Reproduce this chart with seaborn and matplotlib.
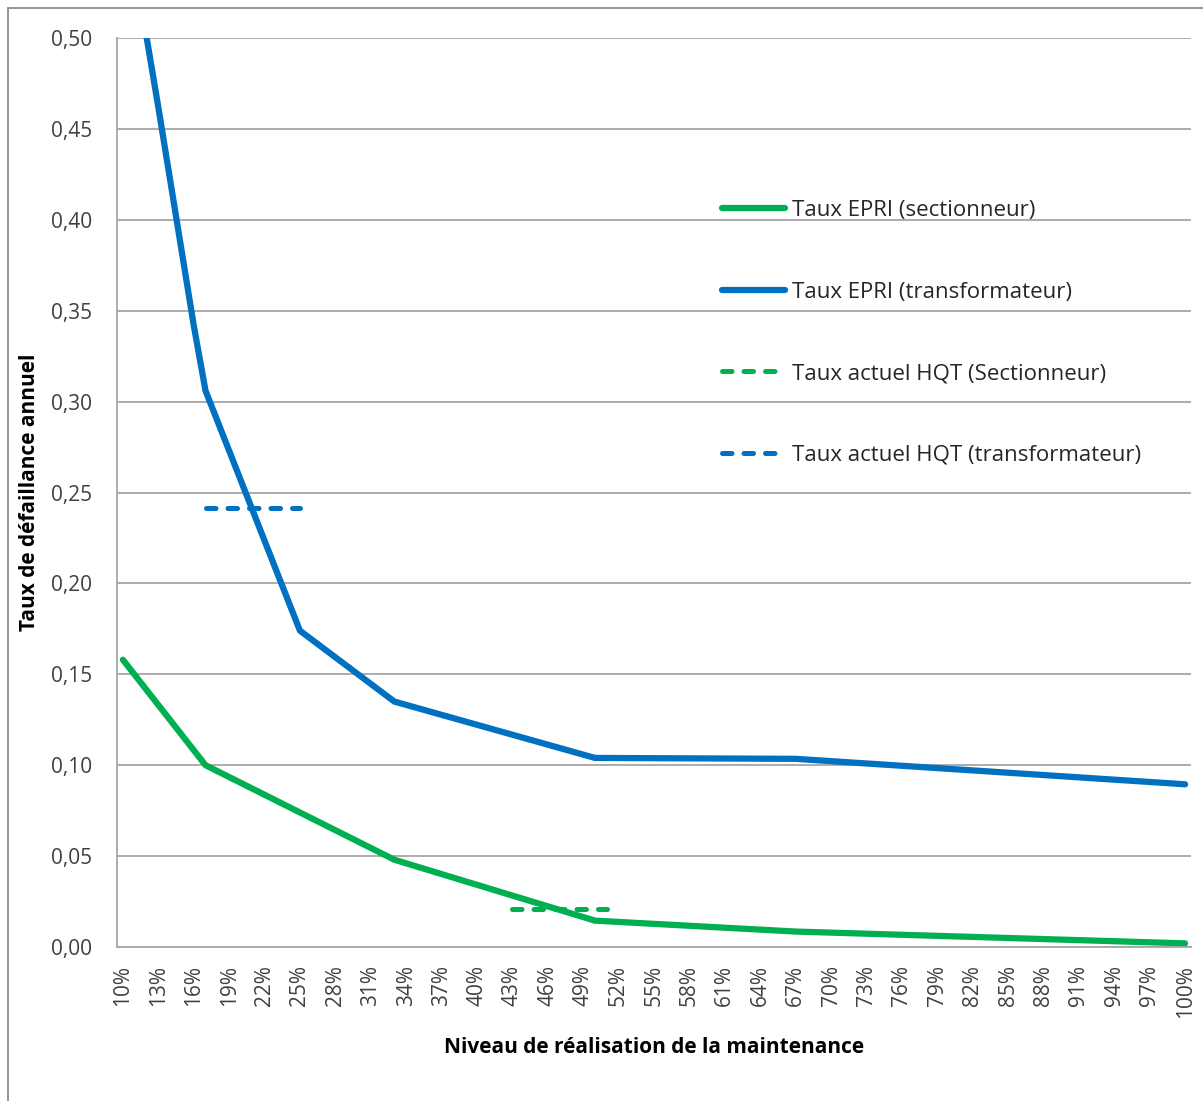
import matplotlib
matplotlib.use("Agg")
import matplotlib.pyplot as plt
import matplotlib.ticker as mticker
from matplotlib.lines import Line2D
import numpy as np
import pandas as pd
import seaborn as sns

# ---- data ----
categories = [f"{p}%" for p in range(10, 101)]          # category axis 10% .. 100%

sect_pct = [10, 17, 33, 50, 67, 100]
sect_val = [0.158, 0.100, 0.048, 0.0145, 0.0085, 0.002]

trans_pct = [10, 13, 16, 17, 25, 33, 50, 67, 100]
trans_val = [0.578, 0.462, 0.342, 0.306, 0.174, 0.135, 0.104, 0.1035, 0.0895]

hqt_sect_pct = [43, 51]
hqt_sect_val = [0.021, 0.021]

hqt_trans_pct = [17, 25]
hqt_trans_val = [0.2415, 0.2415]

labels = ["Taux EPRI (sectionneur)", "Taux EPRI (transformateur)",
          "Taux actuel HQT (Sectionneur)", "Taux actuel HQT (transformateur)"]

yticks = [0.00, 0.05, 0.10, 0.15, 0.20, 0.25, 0.30, 0.35, 0.40, 0.45, 0.50]

GREEN = "#00B050"
BLUE = "#0070C0"

sns.set_style("white")
plt.rcParams["font.family"] = ["Open Sans", "DejaVu Sans"]

fig = plt.figure(figsize=(12.03, 11.01), dpi=100)
ax = fig.add_axes([117 / 1203, 1 - 947 / 1101, (1191 - 117) / 1203, (947 - 38) / 1101])

def idx(pcts):
    return [categories.index(f"{p}%") for p in pcts]

df_s = pd.DataFrame({"x": idx(sect_pct), "y": sect_val})
df_t = pd.DataFrame({"x": idx(trans_pct), "y": trans_val})
df_hs = pd.DataFrame({"x": idx(hqt_sect_pct), "y": hqt_sect_val})
df_ht = pd.DataFrame({"x": idx(hqt_trans_pct), "y": hqt_trans_val})

lw = 4.5
sns.lineplot(data=df_s, x="x", y="y", ax=ax, color=GREEN, lw=lw,
             solid_capstyle="round", solid_joinstyle="round", label=labels[0], estimator=None)
sns.lineplot(data=df_t, x="x", y="y", ax=ax, color=BLUE, lw=lw,
             solid_capstyle="round", solid_joinstyle="round", label=labels[1], estimator=None)
sns.lineplot(data=df_hs, x="x", y="y", ax=ax, color=GREEN, lw=3.6,
             dashes=False, label=labels[2], estimator=None)
sns.lineplot(data=df_ht, x="x", y="y", ax=ax, color=BLUE, lw=3.6,
             dashes=False, label=labels[3], estimator=None)
for ln in ax.lines[2:4]:
    ln.set_linestyle((0, (1.9, 2.4)))
    ln.set_dash_capstyle("round")

ax.set_xlim(-0.5, len(categories) - 0.5)
ax.set_ylim(0, 0.5)

# y axis
ax.set_yticks(yticks)
ax.yaxis.set_major_formatter(mticker.FuncFormatter(lambda v, p: f"{v:.2f}".replace(".", ",")))
ax.grid(axis="y", color="#a6a6a6", lw=1.3)
ax.grid(axis="x", visible=False)
ax.set_axisbelow(True)

# x axis
major = list(range(0, len(categories), 3))
ax.set_xticks(major)
ax.set_xticklabels([categories[i] for i in major], rotation=90, va="top", ha="center")
ax.set_xticks(np.arange(-0.5, len(categories), 1.0), minor=True)
ax.tick_params(axis="x", which="major", length=0, pad=13, labelsize=15, colors="#404040")
ax.tick_params(axis="x", which="minor", length=5, width=1.2, color="#a6a6a6", direction="out")
ax.tick_params(axis="y", which="major", length=7, width=1.2, color="#a6a6a6", pad=11,
               labelsize=15, labelcolor="#404040", direction="out")
ax.tick_params(axis="x", labelcolor="#404040")
for side in ["top", "right"]:
    ax.spines[side].set_visible(False)
for side in ["left", "bottom"]:
    ax.spines[side].set_color("#a6a6a6")
    ax.spines[side].set_linewidth(1.3)

ax.set_xlabel("Niveau de réalisation de la maintenance", fontsize=15, fontweight="bold",
              color="#000000", labelpad=14)
ax.set_ylabel("Taux de défaillance annuel", fontsize=15, fontweight="bold",
              color="#000000", labelpad=7.5)

leg = ax.legend(loc="upper left", bbox_to_anchor=((713 - 117) / 1074, (947 - 191) / 909),
                frameon=False, fontsize=16, handlelength=2.85, handletextpad=0.3,
                labelspacing=2.73, borderaxespad=0)
for t in leg.get_texts():
    t.set_color("#262626")

# outer chart-area border (left and top edges)
fig.add_artist(Line2D([8 / 1203, 8 / 1203], [0, 1 - 8 / 1101], color="#8c8c8c", lw=1.3,
                      transform=fig.transFigure))
fig.add_artist(Line2D([8 / 1203, 1], [1 - 8 / 1101, 1 - 8 / 1101], color="#8c8c8c", lw=1.3,
                      transform=fig.transFigure))

fig.savefig("out.png", dpi=100)
